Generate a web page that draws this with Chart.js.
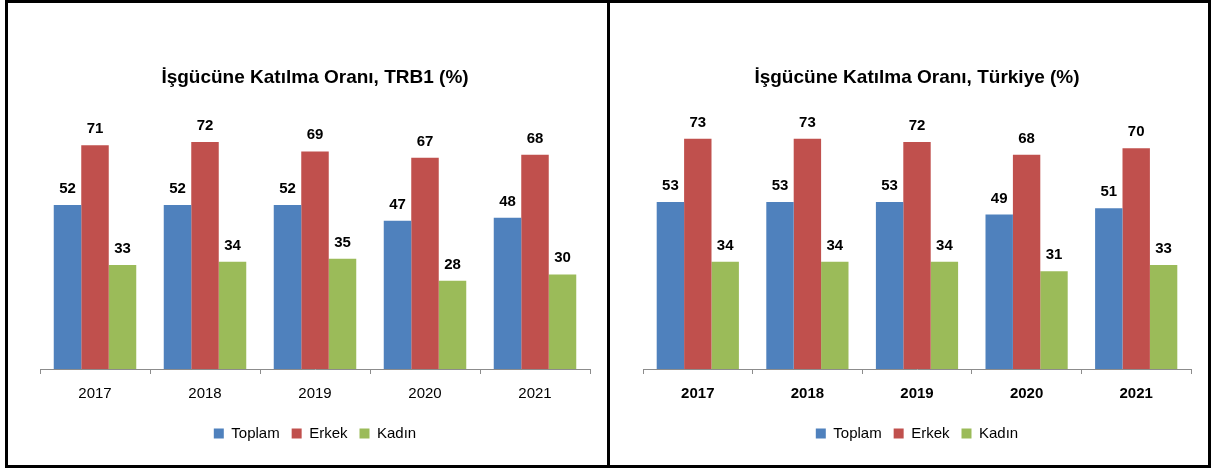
<!DOCTYPE html>
<html>
<head>
<meta charset="utf-8">
<script src="https://cdn.jsdelivr.net/npm/chart.js@4"></script>
<style>
  body { margin: 0; background: #fff; }
  #frame { position: absolute; left: 5px; top: 0; width: 1206px; height: 468px; border: 3px solid #000; box-sizing: border-box; }
  #divider { position: absolute; left: 607px; top: 0; width: 3px; height: 468px; background: #000; }
  #left { position: absolute; left: 8px; top: 3px; }
  #right { position: absolute; left: 610px; top: 3px; }
</style>
</head>
<body>
<div id="frame"></div>
<div id="divider"></div>
<canvas id="left" width="599" height="462"></canvas>
<canvas id="right" width="598" height="462"></canvas>
<script>
const years = ['2017', '2018', '2019', '2020', '2021'];
const seriesNames = ['Toplam', 'Erkek', 'Kadın'];
const colors = ['#4F81BD', '#C0504D', '#9BBB59'];

const trbToplam = [52, 52, 52, 47, 48];
const trbErkek = [71, 72, 69, 67, 68];
const trbKadin = [33, 34, 35, 28, 30];

const trToplam = [53, 53, 53, 49, 51];
const trErkek = [73, 73, 72, 68, 70];
const trKadin = [34, 34, 34, 31, 33];

const fontFamily = "'Liberation Sans', Arial, sans-serif";

// draws value labels above each bar
const valueLabels = {
  id: 'valueLabels',
  afterDatasetsDraw(chart) {
    const c = chart.ctx;
    c.save();
    c.font = 'bold 15px ' + fontFamily;
    c.fillStyle = '#000';
    c.textAlign = 'center';
    c.textBaseline = 'alphabetic';
    chart.data.datasets.forEach((ds, i) => {
      chart.getDatasetMeta(i).data.forEach((bar, j) => {
        c.fillText(ds.data[j], bar.x, bar.y - 12);
      });
    });
    c.restore();
  }
};

function makeChart(id, title, toplam, erkek, kadin, boldTicks, padLeft, padRight) {
  const values = [toplam, erkek, kadin];
  new Chart(document.getElementById(id), {
    type: 'bar',
    data: {
      labels: years,
      datasets: seriesNames.map((name, i) => ({
        label: name,
        data: values[i],
        backgroundColor: colors[i],
        borderWidth: 0,
        categoryPercentage: 0.75,
        barPercentage: 1.0
      }))
    },
    options: {
      responsive: false,
      animation: false,
      layout: { padding: { left: padLeft, right: padRight, top: 0, bottom: 14 } },
      plugins: {
        title: {
          display: true,
          text: title,
          color: '#000',
          font: { family: fontFamily, size: 19, weight: 'bold' },
          padding: { top: 63, bottom: 28 }
        },
        legend: {
          position: 'bottom',
          labels: {
            boxWidth: 10,
            boxHeight: 10,
            padding: 12,
            color: '#000',
            font: { family: fontFamily, size: 15 }
          }
        },
        tooltip: { enabled: false }
      },
      scales: {
        y: { display: false, min: 0, max: 80 },
        x: {
          border: { display: true, color: '#8c8c8c', width: 1 },
          grid: { display: true, drawOnChartArea: false, drawTicks: true, tickLength: 5, color: '#8c8c8c', offset: true },
          ticks: {
            color: '#000',
            padding: 11,
            font: { family: fontFamily, size: 15, weight: boldTicks ? 'bold' : 'normal' }
          }
        }
      }
    },
    plugins: [valueLabels]
  });
}

makeChart('left', 'İşgücüne Katılma Oranı, TRB1 (%)', trbToplam, trbErkek, trbKadin, false, 32, 17);
makeChart('right', 'İşgücüne Katılma Oranı, Türkiye (%)', trToplam, trErkek, trKadin, true, 33, 17);
</script>
</body>
</html>
